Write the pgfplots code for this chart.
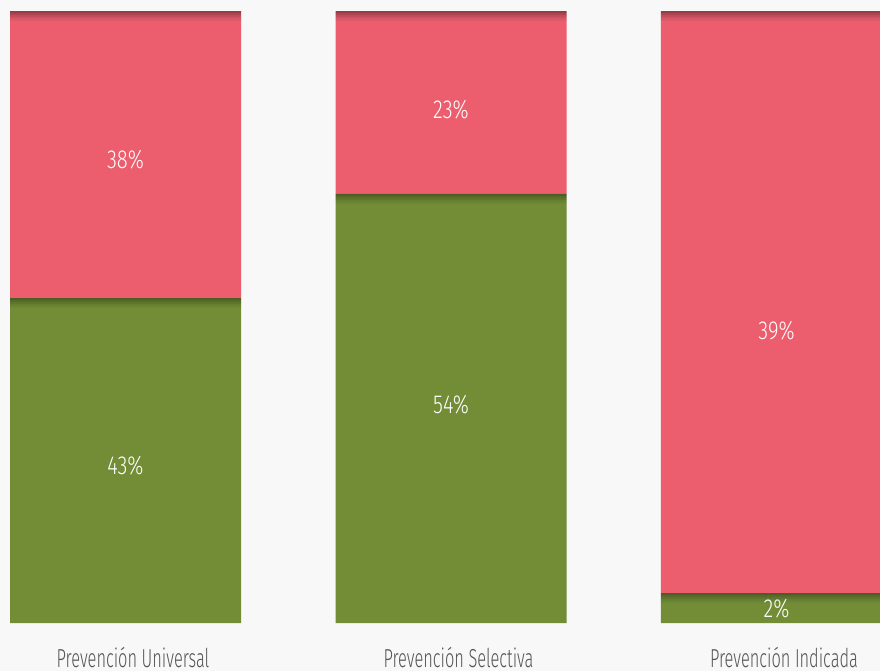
\documentclass[border=0pt]{standalone}
\usepackage{fontspec}
\setmainfont{Fira Sans}[UprightFont=* Light, FakeStretch=0.63]
\newfontfamily\numfont{Fira Sans}[UprightFont=* Light, FakeStretch=0.78]
\usepackage{pgfplots}
\pgfplotsset{compat=1.18}
\definecolor{fondo}{HTML}{F8F8F8}
\definecolor{rojo}{HTML}{EC5E6E}
\definecolor{verde}{HTML}{728D36}
\definecolor{rojoosc}{HTML}{7E2F3A}
\definecolor{verdeosc}{HTML}{3F4F1E}
\definecolor{gristxt}{HTML}{555555}

% porcentajes originales; las barras se normalizan a 100
% Universal 43/38, Selectiva 54/23, Indicada 2/39
% cada tramo = cuerpo + 5 capas de sombra (1.634 en total)
\pgfplotsset{
  base/.style={
    at={(0pt,24pt)}, anchor=south west,
    scale only axis, width=440pt, height=311.5pt,
    xmin=-0.3856, xmax=2.318, ymin=0, ymax=101.8,
    axis line style={draw=none}, tick style={draw=none},
    ytick=\empty,
  },
}
\newcommand{\capa}[1]{\addplot[fill=#1, draw=none]
  coordinates {(0,0.3268) (1,0.3268) (2,0.3268)};}

\begin{document}
\begin{tikzpicture}
\useasboundingbox (0,0) rectangle (440pt,335.5pt);
\fill[fondo] (0,0) rectangle (440pt,335.5pt);
\begin{axis}[
  base,
  ybar stacked, bar width=115.5pt,
  xtick={0,1,2},
  xticklabels={Prevención Universal, Prevención Selectiva, Prevención Indicada},
  xticklabel style={anchor=center, yshift=-17pt, xshift=3.75pt,
    text=gristxt, font=\fontsize{13}{15}\selectfont},
]
\addplot[fill=verde, draw=none]
  coordinates {(0,51.456) (1,68.496) (2,3.246)};
\capa{verdeosc!10!verde}
\capa{verdeosc!22!verde}
\capa{verdeosc!38!verde}
\capa{verdeosc!55!verde}
\capa{verdeosc!75!verde}
\addplot[fill=rojo, draw=none]
  coordinates {(0,45.276) (1,28.236) (2,93.486)};
\capa{rojoosc!10!rojo}
\capa{rojoosc!22!rojo}
\capa{rojoosc!38!rojo}
\capa{rojoosc!55!rojo}
\capa{rojoosc!75!rojo}
\end{axis}
\begin{axis}[
  base, xtick=\empty,
]
\addplot[only marks, mark=none, nodes near coords,
  point meta=explicit symbolic,
  every node near coord/.append style={anchor=center, text=white,
    font=\numfont\fontsize{13}{15}\selectfont}]
  coordinates {
    (0,25.65)[43\%] (0,75.65)[38\%]
    (1,35.62)[54\%] (1,83.82)[23\%]
    (2,2.29)[2\%] (2,47.71)[39\%]
  };
\end{axis}
\end{tikzpicture}
\end{document}
